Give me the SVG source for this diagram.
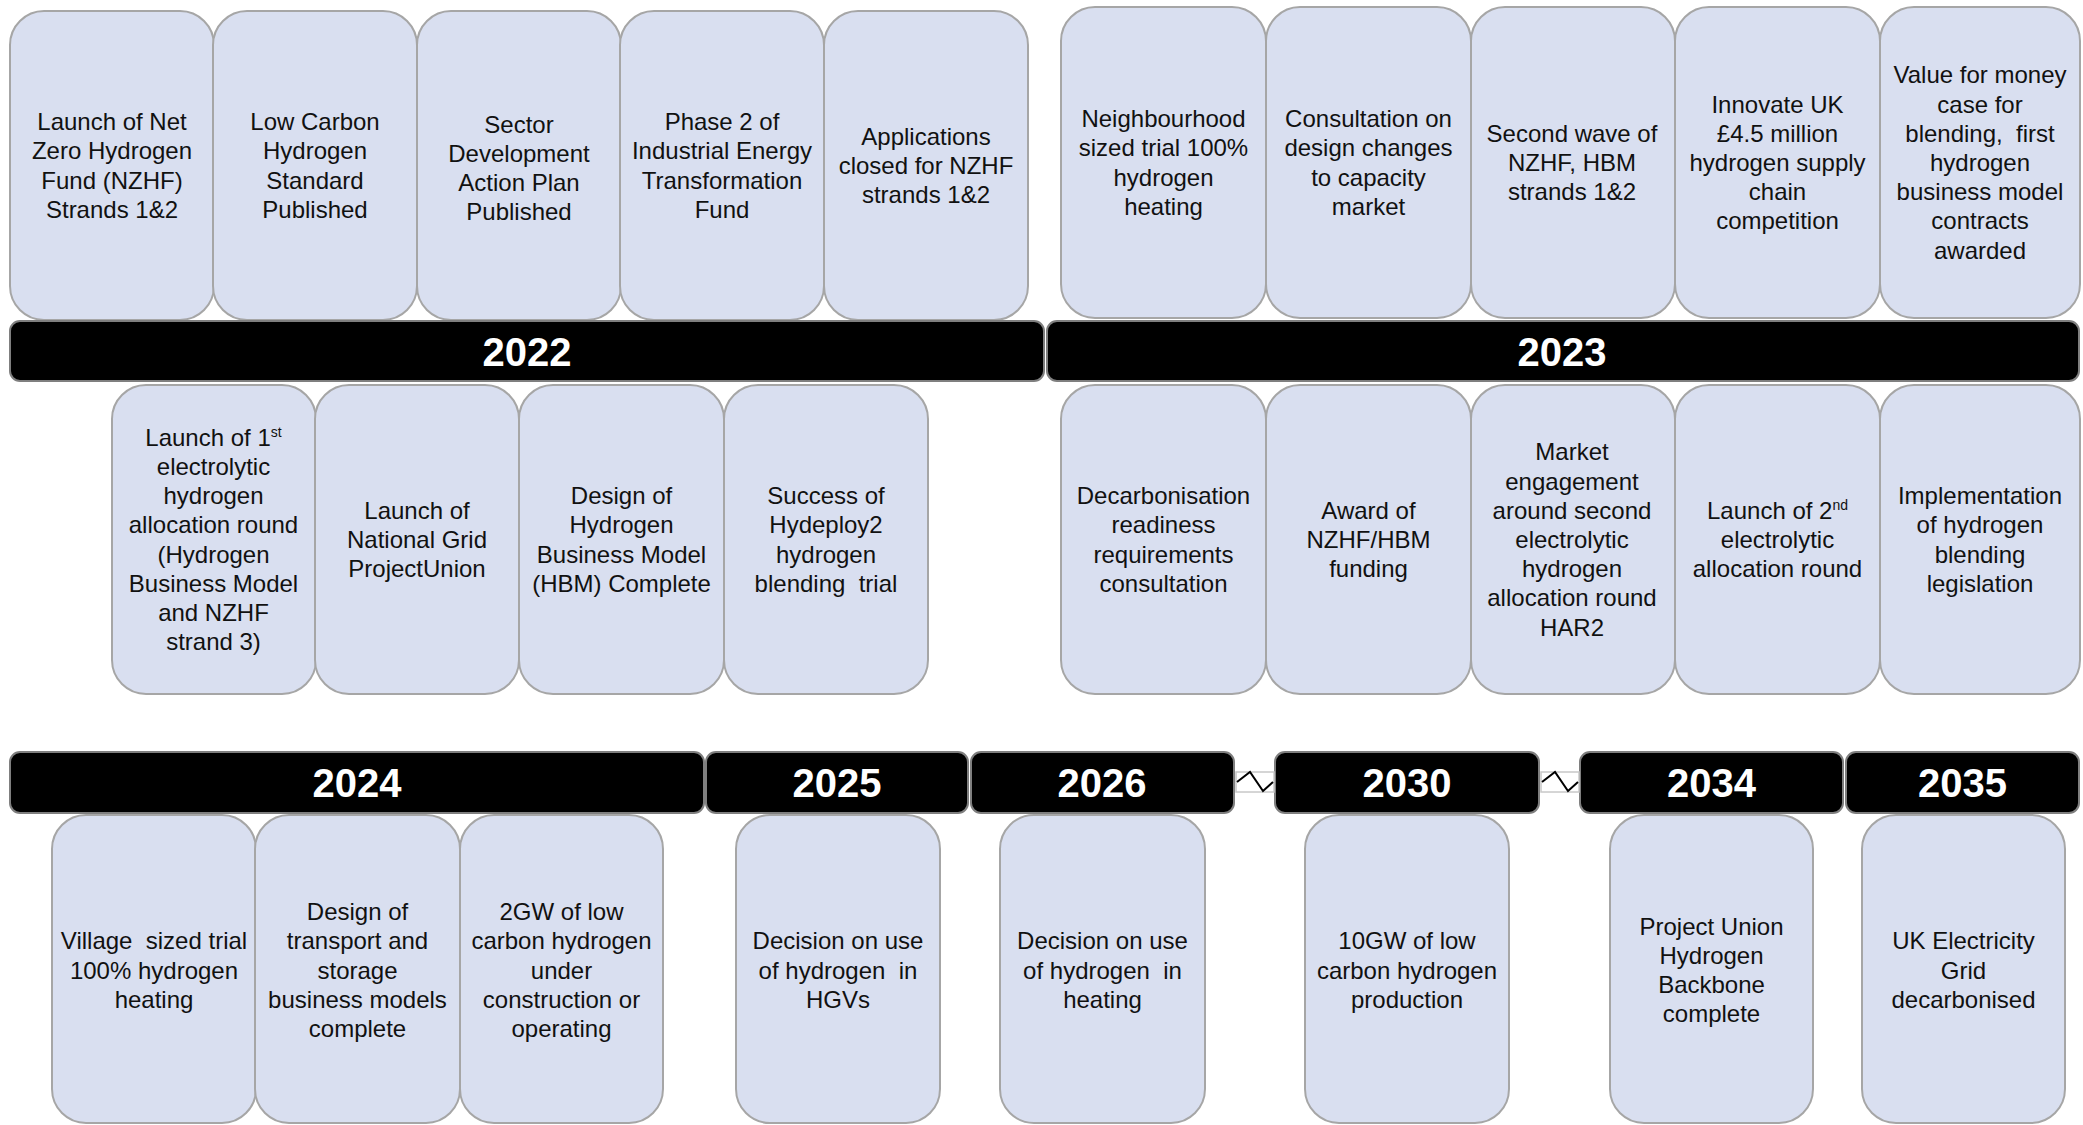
<svg xmlns="http://www.w3.org/2000/svg" width="2083" height="1125" viewBox="0 0 2083 1125">
<style>
.box{fill:#D9DFF0;stroke:#A6A6A6;stroke-width:2}
.bar{fill:#000;stroke:#7F7F7F;stroke-width:2}
.t{font-family:"Liberation Sans",Arial,sans-serif;font-size:24px;fill:#111;text-anchor:middle}
.y{font-family:"Liberation Sans",Arial,sans-serif;font-size:40px;font-weight:bold;fill:#fff;text-anchor:middle}
.sup{font-size:14px}
.zz{fill:none;stroke:#000;stroke-width:2}
.zr{fill:#fff;stroke:#C8C8C8;stroke-width:1.5}
</style>
<rect width="2083" height="1125" fill="#fff"/>

<!-- 2022 top -->
<g id="n2022a1"><rect class="box" x="10" y="11" width="204" height="309" rx="34"/><text class="t" y="130.2"><tspan x="112">Launch of Net</tspan><tspan x="112" dy="29.2">Zero Hydrogen</tspan><tspan x="112" dy="29.2">Fund (NZHF)</tspan><tspan x="112" dy="29.2">Strands 1&amp;2</tspan></text></g>
<g id="n2022a2"><rect class="box" x="213" y="11" width="204" height="309" rx="34"/><text class="t" y="130.2"><tspan x="315">Low Carbon</tspan><tspan x="315" dy="29.2">Hydrogen</tspan><tspan x="315" dy="29.2">Standard</tspan><tspan x="315" dy="29.2">Published</tspan></text></g>
<g id="n2022a3"><rect class="box" x="417" y="11" width="204" height="309" rx="34"/><text class="t" y="132.5"><tspan x="519">Sector</tspan><tspan x="519" dy="29.2">Development</tspan><tspan x="519" dy="29.2">Action Plan</tspan><tspan x="519" dy="29.2">Published</tspan></text></g>
<g id="n2022a4"><rect class="box" x="620" y="11" width="204" height="309" rx="34"/><text class="t" y="130.2"><tspan x="722">Phase 2 of</tspan><tspan x="722" dy="29.2">Industrial Energy</tspan><tspan x="722" dy="29.2">Transformation</tspan><tspan x="722" dy="29.2">Fund</tspan></text></g>
<g id="n2022a5"><rect class="box" x="824" y="11" width="204" height="309" rx="34"/><text class="t" y="144.8"><tspan x="926">Applications</tspan><tspan x="926" dy="29.2">closed for NZHF</tspan><tspan x="926" dy="29.2">strands 1&amp;2</tspan></text></g>

<!-- 2023 top -->
<g id="n2023a1"><rect class="box" x="1061" y="7" width="205" height="311" rx="34"/><text class="t" y="127.2"><tspan x="1163.5">Neighbourhood</tspan><tspan x="1163.5" dy="29.2">sized trial 100%</tspan><tspan x="1163.5" dy="29.2">hydrogen</tspan><tspan x="1163.5" dy="29.2">heating</tspan></text></g>
<g id="n2023a2"><rect class="box" x="1266" y="7" width="205" height="311" rx="34"/><text class="t" y="127.2"><tspan x="1368.5">Consultation on</tspan><tspan x="1368.5" dy="29.2">design changes</tspan><tspan x="1368.5" dy="29.2">to capacity</tspan><tspan x="1368.5" dy="29.2">market</tspan></text></g>
<g id="n2023a3"><rect class="box" x="1471" y="7" width="204" height="311" rx="34"/><text class="t" y="141.8"><tspan x="1572">Second wave of</tspan><tspan x="1572" dy="29.2">NZHF, HBM</tspan><tspan x="1572" dy="29.2">strands 1&amp;2</tspan></text></g>
<g id="n2023a4"><rect class="box" x="1675" y="7" width="205" height="311" rx="34"/><text class="t" y="112.6"><tspan x="1777.5">Innovate UK</tspan><tspan x="1777.5" dy="29.2">£4.5 million</tspan><tspan x="1777.5" dy="29.2">hydrogen supply</tspan><tspan x="1777.5" dy="29.2">chain</tspan><tspan x="1777.5" dy="29.2">competition</tspan></text></g>
<g id="n2023a5"><rect class="box" x="1880" y="7" width="200" height="311" rx="34"/><text class="t" y="83.4" xml:space="preserve"><tspan x="1980">Value for money</tspan><tspan x="1980" dy="29.2">case for</tspan><tspan x="1980" dy="29.2">blending,  first</tspan><tspan x="1980" dy="29.2">hydrogen</tspan><tspan x="1980" dy="29.2">business model</tspan><tspan x="1980" dy="29.2">contracts</tspan><tspan x="1980" dy="29.2">awarded</tspan></text></g>

<!-- year bars -->
<g id="bar2022"><rect class="bar" x="10" y="321" width="1034" height="60" rx="10"/><text class="y" x="527" y="366">2022</text></g>
<g id="bar2023"><rect class="bar" x="1047" y="321" width="1032" height="60" rx="10"/><text class="y" x="1562" y="366">2023</text></g>

<!-- 2022 middle -->
<g id="n2022b1"><rect class="box" x="112" y="385" width="204" height="309" rx="34"/><text class="t" y="445.8"><tspan x="213.5">Launch of 1<tspan class="sup" dy="-9">st</tspan></tspan><tspan x="213.5" dy="38.2">electrolytic</tspan><tspan x="213.5" dy="29.2">hydrogen</tspan><tspan x="213.5" dy="29.2">allocation round</tspan><tspan x="213.5" dy="29.2">(Hydrogen</tspan><tspan x="213.5" dy="29.2">Business Model</tspan><tspan x="213.5" dy="29.2">and NZHF</tspan><tspan x="213.5" dy="29.2">strand 3)</tspan></text></g>
<g id="n2022b2"><rect class="box" x="315" y="385" width="204" height="309" rx="34"/><text class="t" y="518.8"><tspan x="417">Launch of</tspan><tspan x="417" dy="29.2">National Grid</tspan><tspan x="417" dy="29.2">ProjectUnion</tspan></text></g>
<g id="n2022b3"><rect class="box" x="519" y="385" width="205" height="309" rx="34"/><text class="t" y="504.2"><tspan x="621.5">Design of</tspan><tspan x="621.5" dy="29.2">Hydrogen</tspan><tspan x="621.5" dy="29.2">Business Model</tspan><tspan x="621.5" dy="29.2">(HBM) Complete</tspan></text></g>
<g id="n2022b4"><rect class="box" x="724" y="385" width="204" height="309" rx="34"/><text class="t" y="504.2" xml:space="preserve"><tspan x="826">Success of</tspan><tspan x="826" dy="29.2">Hydeploy2</tspan><tspan x="826" dy="29.2">hydrogen</tspan><tspan x="826" dy="29.2">blending  trial</tspan></text></g>

<!-- 2023 middle -->
<g id="n2023b1"><rect class="box" x="1061" y="385" width="205" height="309" rx="34"/><text class="t" y="504.2"><tspan x="1163.5">Decarbonisation</tspan><tspan x="1163.5" dy="29.2">readiness</tspan><tspan x="1163.5" dy="29.2">requirements</tspan><tspan x="1163.5" dy="29.2">consultation</tspan></text></g>
<g id="n2023b2"><rect class="box" x="1266" y="385" width="205" height="309" rx="34"/><text class="t" y="518.8"><tspan x="1368.5">Award of</tspan><tspan x="1368.5" dy="29.2">NZHF/HBM</tspan><tspan x="1368.5" dy="29.2">funding</tspan></text></g>
<g id="n2023b3"><rect class="box" x="1471" y="385" width="204" height="309" rx="34"/><text class="t" y="460.4"><tspan x="1572">Market</tspan><tspan x="1572" dy="29.2">engagement</tspan><tspan x="1572" dy="29.2">around second</tspan><tspan x="1572" dy="29.2">electrolytic</tspan><tspan x="1572" dy="29.2">hydrogen</tspan><tspan x="1572" dy="29.2">allocation round</tspan><tspan x="1572" dy="29.2">HAR2</tspan></text></g>
<g id="n2023b4"><rect class="box" x="1675" y="385" width="205" height="309" rx="34"/><text class="t" y="518.8"><tspan x="1777.5">Launch of 2<tspan class="sup" dy="-9">nd</tspan></tspan><tspan x="1777.5" dy="38.2">electrolytic</tspan><tspan x="1777.5" dy="29.2">allocation round</tspan></text></g>
<g id="n2023b5"><rect class="box" x="1880" y="385" width="200" height="309" rx="34"/><text class="t" y="504.2"><tspan x="1980">Implementation</tspan><tspan x="1980" dy="29.2">of hydrogen</tspan><tspan x="1980" dy="29.2">blending</tspan><tspan x="1980" dy="29.2">legislation</tspan></text></g>

<!-- bottom bars -->
<g id="bar2024"><rect class="bar" x="10" y="752" width="694" height="61" rx="10"/><text class="y" x="357" y="797">2024</text></g>
<g id="bar2025"><rect class="bar" x="706" y="752" width="262" height="61" rx="10"/><text class="y" x="837" y="797">2025</text></g>
<g id="bar2026"><rect class="bar" x="971" y="752" width="263" height="61" rx="10"/><text class="y" x="1102" y="797">2026</text></g>
<g id="bar2030"><rect class="bar" x="1275" y="752" width="264" height="61" rx="10"/><text class="y" x="1407" y="797">2030</text></g>
<g id="bar2034"><rect class="bar" x="1580" y="752" width="263" height="61" rx="10"/><text class="y" x="1711.5" y="797">2034</text></g>
<g id="bar2035"><rect class="bar" x="1846" y="752" width="233" height="61" rx="10"/><text class="y" x="1962.5" y="797">2035</text></g>

<!-- connectors (timeline breaks) -->
<g id="connectors">
<rect class="zr" x="1236" y="772" width="38" height="20"/>
<polyline class="zz" points="1237,782 1250,772 1263,791 1273,782"/>
<rect class="zr" x="1541" y="772" width="38" height="20"/>
<polyline class="zz" points="1542,782 1555,772 1568,791 1578,782"/>
</g>

<!-- bottom row -->
<g id="n2024a"><rect class="box" x="52" y="815" width="204" height="308" rx="34"/><text class="t" y="949.3" xml:space="preserve"><tspan x="154">Village  sized trial</tspan><tspan x="154" dy="29.2">100% hydrogen</tspan><tspan x="154" dy="29.2">heating</tspan></text></g>
<g id="n2024b"><rect class="box" x="255" y="815" width="205" height="308" rx="34"/><text class="t" y="920.1"><tspan x="357.5">Design of</tspan><tspan x="357.5" dy="29.2">transport and</tspan><tspan x="357.5" dy="29.2">storage</tspan><tspan x="357.5" dy="29.2">business models</tspan><tspan x="357.5" dy="29.2">complete</tspan></text></g>
<g id="n2024c"><rect class="box" x="460" y="815" width="203" height="308" rx="34"/><text class="t" y="920.1"><tspan x="561.5">2GW of low</tspan><tspan x="561.5" dy="29.2">carbon hydrogen</tspan><tspan x="561.5" dy="29.2">under</tspan><tspan x="561.5" dy="29.2">construction or</tspan><tspan x="561.5" dy="29.2">operating</tspan></text></g>
<g id="n2025"><rect class="box" x="736" y="815" width="204" height="308" rx="34"/><text class="t" y="949.3" xml:space="preserve"><tspan x="838">Decision on use</tspan><tspan x="838" dy="29.2">of hydrogen  in</tspan><tspan x="838" dy="29.2">HGVs</tspan></text></g>
<g id="n2026"><rect class="box" x="1000" y="815" width="205" height="308" rx="34"/><text class="t" y="949.3" xml:space="preserve"><tspan x="1102.5">Decision on use</tspan><tspan x="1102.5" dy="29.2">of hydrogen  in</tspan><tspan x="1102.5" dy="29.2">heating</tspan></text></g>
<g id="n2030"><rect class="box" x="1305" y="815" width="204" height="308" rx="34"/><text class="t" y="949.3"><tspan x="1407">10GW of low</tspan><tspan x="1407" dy="29.2">carbon hydrogen</tspan><tspan x="1407" dy="29.2">production</tspan></text></g>
<g id="n2034"><rect class="box" x="1610" y="815" width="203" height="308" rx="34"/><text class="t" y="934.7"><tspan x="1711.5">Project Union</tspan><tspan x="1711.5" dy="29.2">Hydrogen</tspan><tspan x="1711.5" dy="29.2">Backbone</tspan><tspan x="1711.5" dy="29.2">complete</tspan></text></g>
<g id="n2035"><rect class="box" x="1862" y="815" width="203" height="308" rx="34"/><text class="t" y="949.3"><tspan x="1963.5">UK Electricity</tspan><tspan x="1963.5" dy="29.2">Grid</tspan><tspan x="1963.5" dy="29.2">decarbonised</tspan></text></g>
</svg>
